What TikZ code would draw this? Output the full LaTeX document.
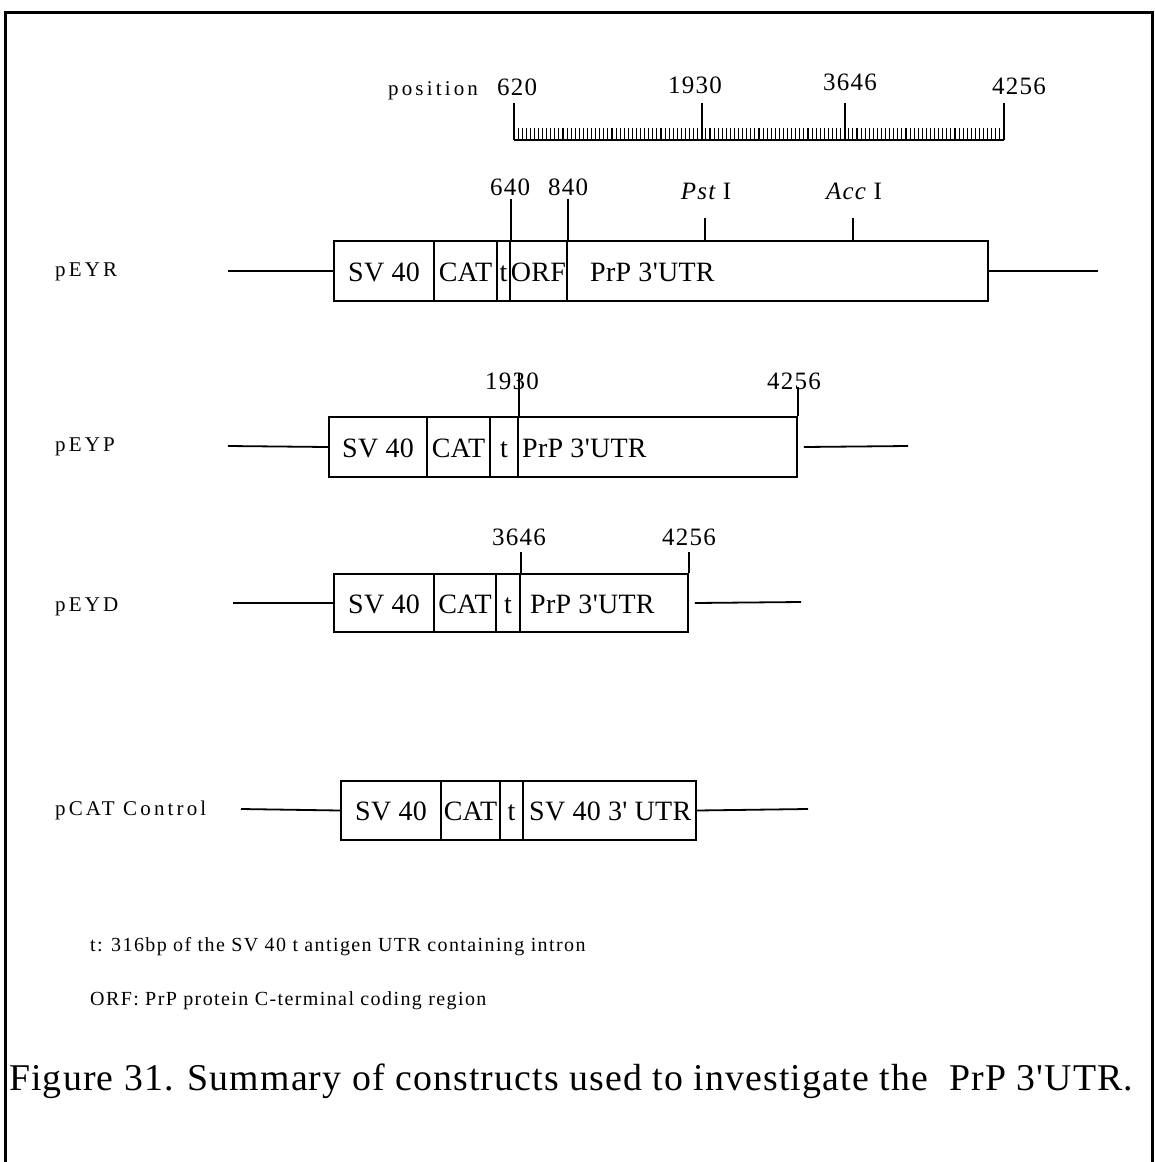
\documentclass[tikz,border=0pt]{standalone}
\usepackage{fontspec}
\setmainfont{Liberation Serif}
\newfontfamily\lblfam[LetterSpace=15]{Liberation Serif}
\newfontfamily\notefam[LetterSpace=7]{Liberation Serif}
\newfontfamily\numfam[LetterSpace=5]{Liberation Serif}
\newfontfamily\boxfam[LetterSpace=1]{Liberation Serif}
\newfontfamily\capfam[LetterSpace=3]{Liberation Serif}
\newcommand\lbltext{\lblfam\fontsize{21}{25}\selectfont}
\newcommand\notetext{\notefam\fontsize{20}{24}\selectfont}
\newcommand\numtext{\numfam\fontsize{25}{30}\selectfont}
\newcommand\boxtext{\boxfam\fontsize{28}{33}\selectfont}
\newcommand\captext{\capfam\fontsize{37.8}{44}\selectfont}
\newcommand\segm[6]{\node[seg, minimum width={#3-#2}, minimum height={#5-#4}] (#1) at ({(#2+#3)/2},{(#4+#5)/2}) {#6};}
\begin{document}
\begin{tikzpicture}[x=1pt,y=-1pt,
  seg/.style={draw, line width=1.8pt, inner sep=0pt, text height=20pt, text depth=0pt, font=\boxtext},
  boxlbl/.style={inner sep=0pt, anchor=base west, font=\boxtext},
  backbone/.style={line width=1.8pt},
  ticky/.style={line width=1.8pt},
  minortick/.style={line width=1.1pt},
  lbl/.style={inner sep=0pt, anchor=west, font=\lbltext},
  num/.style={inner sep=0pt, anchor=base, font=\numtext},
  note/.style={inner sep=0pt, anchor=west, font=\notetext},
  frameline/.style={line width=3pt}]
\useasboundingbox (0,0) rectangle (1155,1162);
% frame
\draw[frameline] (5,1162) -- (5,12) -- (1152,12) -- (1152,1162);

% ruler
\node[lbl, anchor=base west] (pos) at (388,95) {position};
\coordinate (r0) at (514,140);
\coordinate (r1) at (702,140);
\coordinate (r2) at (845,140);
\coordinate (r3) at (1004,140);
\draw[ticky] (r0) -- (r3);
\foreach \i in {0,...,120} {\draw[minortick] ({514+4.0833*\i},140) -- ++(0,-12);}
\draw[ticky] (r0) -- ++(0,-37) coordinate (r0t);
\draw[ticky] (r1) -- ++(0,-37) coordinate (r1t);
\draw[ticky] (r2) -- ++(0,-37) coordinate (r2t);
\draw[ticky] (r3) -- ++(0,-37) coordinate (r3t);
\node[num] (n620) at (517,95) {620};
\node[num] (n1930) at (695,93) {1930};
\node[num] (n3646) at (850,90) {3646};
\node[num] (n4256) at (1019,94) {4256};

% pEYR
\node[lbl] (lr) at (55,272) {pEYR};
\segm{rSV}{334}{434}{241}{301}{SV 40}
\segm{rCAT}{434}{497}{241}{301}{CAT}
\segm{rt}{497}{510}{241}{301}{t}
\segm{rORF}{510}{567}{241}{301}{ORF}
\segm{rUTR}{567}{988}{241}{301}{}
\node[boxlbl] (rUTRt) at (590,281) {PrP 3'UTR};
\coordinate (rL) at (228,271);
\coordinate (rR) at (1098,271);
\draw[backbone] (rL) -- (rSV.west);
\draw[backbone] (rUTR.east) -- (rR);
\draw[ticky] (rt.north east) -- ++(0,-41) coordinate (r640);
\draw[ticky] (rORF.north east) -- ++(0,-41) coordinate (r840);
\node[num] (l640) at (510,195) {640};
\node[num] (l840) at (568,195) {840};
\coordinate (pst) at (705,218);
\coordinate (acc) at (853,218);
\draw[ticky] (rUTR.north -| pst) -- (pst);
\draw[ticky] (rUTR.north -| acc) -- (acc);
\node[num] (lpst) at (706,199) {\itshape Pst\upshape{} I};
\node[num] (lacc) at (854,199) {\itshape Acc\upshape{} I};

% pEYP
\node[lbl] (lp) at (55,447) {pEYP};
\segm{pSV}{329}{427}{417}{477}{SV 40}
\segm{pCAT}{427}{490}{417}{477}{CAT}
\segm{pt}{490}{518}{417}{477}{t}
\segm{pUTR}{518}{797}{417}{477}{}
\node[boxlbl] (pUTRt) at (522,457) {PrP 3'UTR};
\coordinate (pL) at (228,446);
\coordinate (pR) at (908,446);
\draw[backbone] (pL) -- (pSV.west);
\draw[backbone] ([xshift=6pt]pUTR.east) -- (pR);
\draw[ticky] (pt.north east) -- ++(0,-43) coordinate (p1930);
\draw[ticky] (pUTR.north east) -- ++(0,-29) coordinate (p4256);
\node[num] (l1930) at (512,389) {1930};
\node[num] (lp4256) at (794,389) {4256};

% pEYD
\node[lbl] (ld) at (55,607) {pEYD};
\segm{dSV}{334}{434}{574}{632}{SV 40}
\segm{dCAT}{434}{496}{574}{632}{CAT}
\segm{dt}{496}{520}{574}{632}{t}
\segm{dUTR}{520}{688}{574}{632}{}
\node[boxlbl] (dUTRt) at (530,613) {PrP 3'UTR};
\coordinate (dL) at (233,603);
\coordinate (dR) at (801,602);
\draw[backbone] (dL) -- (dSV.west);
\draw[backbone] ([xshift=6pt]dUTR.east) -- (dR);
\draw[ticky] (dt.north east) -- ++(0,-21) coordinate (d3646);
\draw[ticky] (dUTR.north east) -- ++(0,-21) coordinate (d4256);
\node[num] (l3646) at (519,545) {3646};
\node[num] (ld4256) at (689,545) {4256};

% pCAT Control
\node[lbl] (lc) at (55,810) {pCAT Control};
\segm{cSV}{341}{441}{781}{840}{SV 40}
\segm{cCAT}{441}{500}{781}{840}{CAT}
\segm{ct}{500}{523}{781}{840}{t}
\segm{cUTR}{523}{696}{781}{840}{}
\node[boxlbl] (cUTRt) at (529,820) {SV 40 3' UTR};
\coordinate (cL) at (241,809);
\coordinate (cR) at (808,809);
\draw[backbone] (cL) -- (cSV.west);
\draw[backbone] (cUTR.east) -- (cR);

% notes
\node[note] (n1) at (90,947) {t: 316bp of the SV 40 t antigen UTR containing intron};
\node[note] (n2) at (90,1001) {ORF: PrP protein C-terminal coding region};
\node[inner sep=0pt, anchor=west, font=\captext] (cap) at (9,1081) {Figure 31. Summary of constructs used to investigate the\ \ PrP 3'UTR.};
\end{tikzpicture}
\end{document}
